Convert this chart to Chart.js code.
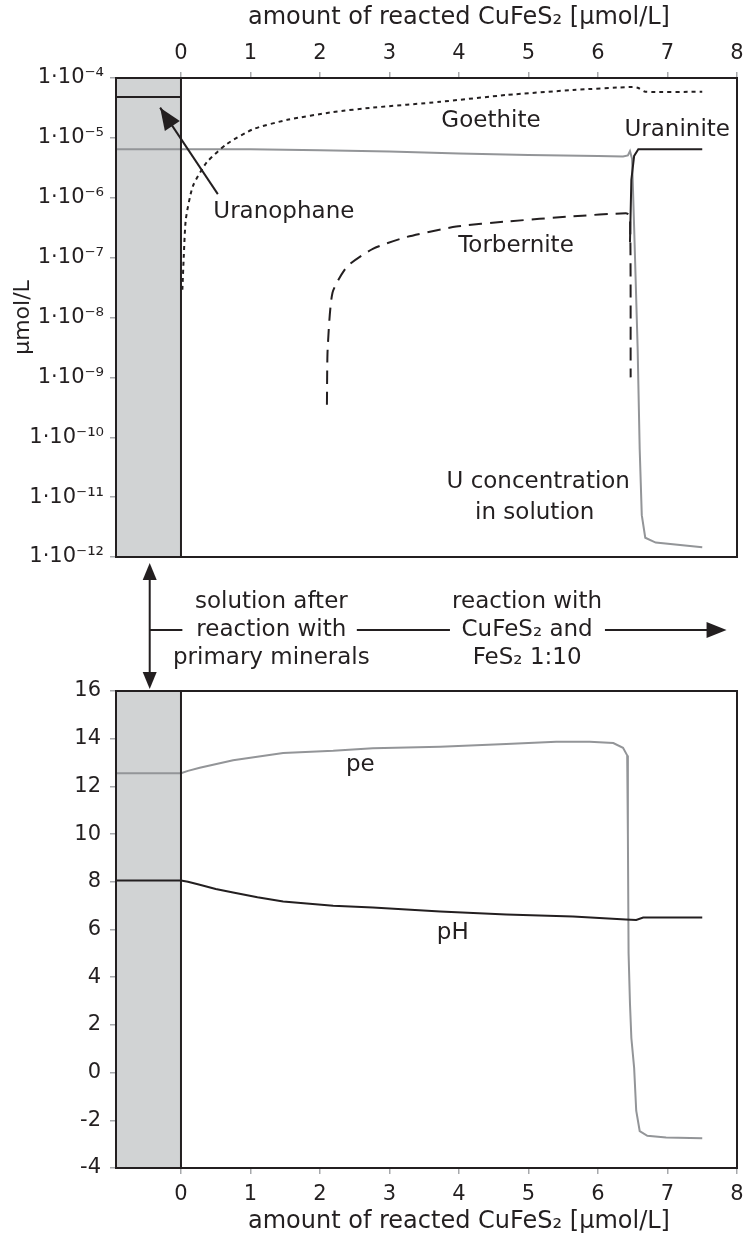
<!DOCTYPE html>
<html>
<head>
<meta charset="utf-8">
<script src="https://cdn.jsdelivr.net/npm/chart.js@4.4.1/dist/chart.umd.min.js"></script>
<style>
  html, body { margin: 0; padding: 0; background: #fff; overflow: hidden; }
  #wrap { position: relative; width: 746px; height: 1243px; }
  #topChart { position: absolute; left: 0; top: 0; }
  #bottomChart { position: absolute; left: 0; top: 560px; }
</style>
</head>
<body>
<div id="wrap">
  <canvas id="topChart" width="746" height="585"></canvas>
  <canvas id="bottomChart" width="746" height="683"></canvas>
</div>
<script>
// axis ranges and ticks (x = amount of reacted CuFeS2, umol/L)
const X_MIN = -0.935, X_MAX = 8;
const xTicks = [0, 1, 2, 3, 4, 5, 6, 7, 8];
const logTicks = [1e-12, 1e-11, 1e-10, 1e-9, 1e-8, 1e-7, 1e-6, 1e-5, 1e-4];
const linTicks = [-4, -2, 0, 2, 4, 6, 8, 10, 12, 14, 16];

// top panel: saturation / concentration, umol/L
const uranophaneX = [-0.935, 0];
const uranophaneY = [4.8e-5, 4.8e-5];

const goethiteX = [0.02, 0.04, 0.07, 0.17, 0.37, 0.66, 1.04, 1.53, 2.19, 2.76, 3.73, 4.68, 5.64, 6.50, 6.58, 6.68, 7.50];
const goethiteY = [2.9e-8, 1.05e-7, 4.4e-7, 1.55e-6, 3.9e-6, 7.9e-6, 1.4e-5, 2.0e-5, 2.7e-5, 3.2e-5, 4.0e-5, 5.2e-5, 6.3e-5, 7.1e-5, 6.8e-5, 5.9e-5, 5.9e-5];

const torberniteX = [2.10, 2.11, 2.18, 2.39, 2.76, 3.24, 3.96, 4.68, 5.64, 6.40, 6.46, 6.47];
const torberniteY = [3.5e-10, 2.9e-9, 2.6e-8, 7.1e-8, 1.4e-7, 2.2e-7, 3.3e-7, 4.0e-7, 4.9e-7, 5.5e-7, 5.0e-7, 1.0e-9];

const uraniniteX = [6.46, 6.48, 6.52, 6.58, 7.50];
const uraniniteY = [1.8e-7, 2.0e-6, 5.0e-6, 6.45e-6, 6.45e-6];

const uConcX = [-0.935, 0, 1, 2, 3, 4, 5, 6, 6.36, 6.43, 6.46, 6.49, 6.52, 6.57, 6.60, 6.63, 6.68, 6.83, 7.50];
const uConcY = [6.45e-6, 6.45e-6, 6.45e-6, 6.2e-6, 5.9e-6, 5.5e-6, 5.2e-6, 5.0e-6, 4.9e-6, 5.1e-6, 6.0e-6, 4.5e-6, 3.2e-7, 3.2e-9, 6.3e-11, 5.0e-12, 2.1e-12, 1.74e-12, 1.45e-12];

// bottom panel: pe and pH
const peX = [-0.935, 0, 0.1, 0.27, 0.75, 1.47, 2.19, 2.76, 3.73, 4.68, 5.40, 5.88, 6.22, 6.36, 6.42, 6.43, 6.44, 6.46, 6.48, 6.52, 6.55, 6.60, 6.71, 6.98, 7.50];
const peY = [12.55, 12.55, 12.65, 12.78, 13.1, 13.4, 13.49, 13.6, 13.66, 13.78, 13.87, 13.87, 13.82, 13.62, 13.3, 10, 5, 2.9, 1.45, 0.2, -1.6, -2.45, -2.65, -2.72, -2.75];

const phX = [-0.935, 0, 0.1, 0.27, 0.5, 0.75, 1.1, 1.47, 2.19, 2.76, 3.73, 4.68, 5.64, 6.40, 6.55, 6.65, 7.50];
const phY = [8.05, 8.05, 8.0, 7.88, 7.7, 7.55, 7.35, 7.17, 7.0, 6.92, 6.75, 6.63, 6.54, 6.42, 6.40, 6.5, 6.5];

const BLACK = '#231f20';
const GREY = '#939598';
const ZONE = '#d1d3d4';
const TICK = '#a7a9ac';
const FONT = 'DejaVu Sans';

Chart.defaults.font.family = FONT;
Chart.defaults.color = BLACK;

const SUP = {'-': '⁻', '0': '⁰', '1': '¹', '2': '²', '3': '³', '4': '⁴', '5': '⁵', '6': '⁶', '7': '⁷', '8': '⁸', '9': '⁹'};
function logLabel(v) {
  const e = String(Math.round(Math.log10(v)));
  return '1·10' + e.split('').map(c => SUP[c]).join('');
}

function series(label, xs, ys, color, dash, tension) {
  return {
    label: label,
    data: xs.map((x, i) => ({x: x, y: ys[i]})),
    borderColor: color,
    borderWidth: 2,
    borderDash: dash || [],
    pointRadius: 0,
    fill: false,
    tension: tension || 0
  };
}

function arrowHead(ctx, x1, y1, x2, y2, len, half) {
  const a = Math.atan2(y2 - y1, x2 - x1);
  ctx.beginPath();
  ctx.moveTo(x2, y2);
  ctx.lineTo(x2 - len * Math.cos(a) + half * Math.sin(a), y2 - len * Math.sin(a) - half * Math.cos(a));
  ctx.lineTo(x2 - len * Math.cos(a) - half * Math.sin(a), y2 - len * Math.sin(a) + half * Math.cos(a));
  ctx.closePath();
  ctx.fill();
}

// grey zone before reaction, frame, axis title and text notes
const panelDecor = {
  id: 'decor',
  beforeDatasetsDraw(chart) {
    const {ctx, chartArea: a, scales: {x}} = chart;
    ctx.save();
    ctx.fillStyle = ZONE;
    ctx.fillRect(a.left, a.top, x.getPixelForValue(0) - a.left, a.bottom - a.top);
    ctx.restore();
  },
  afterDraw(chart, args, opts) {
    const {ctx, chartArea: a, scales: {x, y}} = chart;
    ctx.save();
    ctx.strokeStyle = BLACK;
    ctx.fillStyle = BLACK;
    ctx.lineWidth = 2;
    ctx.strokeRect(a.left, a.top, a.right - a.left, a.bottom - a.top);
    const x0 = x.getPixelForValue(0);
    ctx.beginPath();
    ctx.moveTo(x0, a.top);
    ctx.lineTo(x0, a.bottom);
    ctx.stroke();

    ctx.textAlign = 'center';
    ctx.textBaseline = 'middle';

    // x title is centred on the reaction range 0..8
    if (opts.axisTitle) {
      ctx.font = '24px "' + FONT + '"';
      const ty = opts.axisTitle.pos === 'top' ? a.top - 60 : a.bottom + 54;
      ctx.fillText(opts.axisTitle.text, x.getPixelForValue(4), ty);
    }

    ctx.font = '23px "' + FONT + '"';
    (opts.notes || []).forEach(n => {
      ctx.fillText(n.text, x.getPixelForValue(n.x), y.getPixelForValue(n.y));
    });

    (opts.arrows || []).forEach(r => {
      const px1 = x.getPixelForValue(r.x1), py1 = y.getPixelForValue(r.y1);
      const px2 = x.getPixelForValue(r.x2), py2 = y.getPixelForValue(r.y2);
      ctx.lineWidth = 2;
      ctx.beginPath();
      ctx.moveTo(px1, py1);
      ctx.lineTo(px2, py2);
      ctx.stroke();
      arrowHead(ctx, px1, py1, px2, py2, 22, 9);
    });

    if (opts.bridge) {
      // annotation between the two panels, offsets from the panel top
      const t = a.top;
      const xa = x.getPixelForValue(-0.45);
      ctx.lineWidth = 2;
      ctx.beginPath();
      ctx.moveTo(xa, t - 118);
      ctx.lineTo(xa, t - 12);
      ctx.stroke();
      arrowHead(ctx, xa, t - 100, xa, t - 128, 17, 7);
      arrowHead(ctx, xa, t - 30, xa, t - 2, 17, 7);

      const yr = t - 61;
      [[-0.45, 0.02], [2.53, 3.87], [6.1, 7.7]].forEach(s => {
        ctx.beginPath();
        ctx.moveTo(x.getPixelForValue(s[0]), yr);
        ctx.lineTo(x.getPixelForValue(s[1]), yr);
        ctx.stroke();
      });
      const xe = x.getPixelForValue(7.85);
      arrowHead(ctx, xe - 30, yr, xe, yr, 20, 8);

      const rows = [t - 89, t - 61, t - 33];
      opts.bridge.forEach(g => {
        g.lines.forEach((s, i) => ctx.fillText(s, x.getPixelForValue(g.x), rows[i]));
      });
    }
    ctx.restore();
  }
};

function xScale(position) {
  return {
    type: 'linear', position: position, min: X_MIN, max: X_MAX,
    afterBuildTicks: s => { s.ticks = xTicks.map(v => ({value: v})); },
    afterFit: s => {
      s.height = position === 'top' ? 78 : 75;
      s.paddingLeft = 0; s.paddingRight = 0;
    },
    ticks: { padding: position === 'top' ? 6 : 8, font: {size: 21}, color: BLACK, autoSkip: false, maxRotation: 0 },
    grid: { drawOnChartArea: false, tickLength: 6, color: TICK, lineWidth: 1.5 },
    border: { display: false }
  };
}

function yFit(s) {
  s.width = 116;
  s.paddingTop = 0; s.paddingBottom = 0;
}

const xTitle = 'amount of reacted CuFeS₂ [μmol/L]';

new Chart(document.getElementById('topChart'), {
  type: 'line',
  data: {
    datasets: [
      series('Uranophane', uranophaneX, uranophaneY, BLACK),
      series('Uraninite', uraniniteX, uraniniteY, BLACK),
      series('Goethite', goethiteX, goethiteY, BLACK, [4, 4], 0.2),
      series('Torbernite', torberniteX, torberniteY, BLACK, [13, 8], 0.2),
      series('U concentration in solution', uConcX, uConcY, GREY)
    ]
  },
  options: {
    responsive: false, animation: false, devicePixelRatio: 1,
    layout: { padding: { top: 0, right: 9, bottom: 28, left: 0 } },
    plugins: {
      legend: { display: false },
      tooltip: { enabled: false },
      decor: {
        axisTitle: {text: xTitle, pos: 'top'},
        notes: [
          {text: 'Goethite', x: 4.46, y: 1.9e-5},
          {text: 'Uraninite', x: 7.14, y: 1.35e-5},
          {text: 'Torbernite', x: 4.82, y: 1.55e-7},
          {text: 'Uranophane', x: 1.48, y: 5.7e-7},
          {text: 'U concentration', x: 5.14, y: 1.8e-11},
          {text: 'in solution', x: 5.09, y: 5.4e-12}
        ],
        arrows: [{x1: 0.53, y1: 1.15e-6, x2: -0.30, y2: 3.2e-5}]
      }
    },
    scales: {
      x: xScale('top'),
      y: {
        type: 'logarithmic', min: 1e-12, max: 1e-4,
        afterBuildTicks: s => { s.ticks = logTicks.map(v => ({value: v})); },
        afterFit: yFit,
        ticks: { callback: v => logLabel(v), padding: 6, font: {size: 21}, color: BLACK, autoSkip: false },
        grid: { drawOnChartArea: false, tickLength: 6, color: TICK, lineWidth: 1.5 },
        border: { display: false },
        title: { display: true, text: 'μmol/L', font: {size: 22}, color: BLACK, padding: {top: 10, bottom: 0} }
      }
    }
  },
  plugins: [panelDecor]
});

new Chart(document.getElementById('bottomChart'), {
  type: 'line',
  data: {
    datasets: [
      series('pH', phX, phY, BLACK),
      series('pe', peX, peY, GREY)
    ]
  },
  options: {
    responsive: false, animation: false, devicePixelRatio: 1,
    layout: { padding: { top: 131, right: 9, bottom: 0, left: 0 } },
    plugins: {
      legend: { display: false },
      tooltip: { enabled: false },
      decor: {
        axisTitle: {text: xTitle, pos: 'bottom'},
        notes: [
          {text: 'pe', x: 2.58, y: 12.9},
          {text: 'pH', x: 3.91, y: 5.87}
        ],
        bridge: [
          {x: 1.3, lines: ['solution after', 'reaction with', 'primary minerals']},
          {x: 4.98, lines: ['reaction with', 'CuFeS₂ and', 'FeS₂ 1:10']}
        ]
      }
    },
    scales: {
      x: xScale('bottom'),
      y: {
        type: 'linear', min: -4, max: 16,
        afterBuildTicks: s => { s.ticks = linTicks.map(v => ({value: v})); },
        afterFit: yFit,
        ticks: { padding: 9, font: {size: 21}, color: BLACK, autoSkip: false },
        grid: { drawOnChartArea: false, tickLength: 6, color: TICK, lineWidth: 1.5 },
        border: { display: false }
      }
    }
  },
  plugins: [panelDecor]
});
</script>
</body>
</html>
